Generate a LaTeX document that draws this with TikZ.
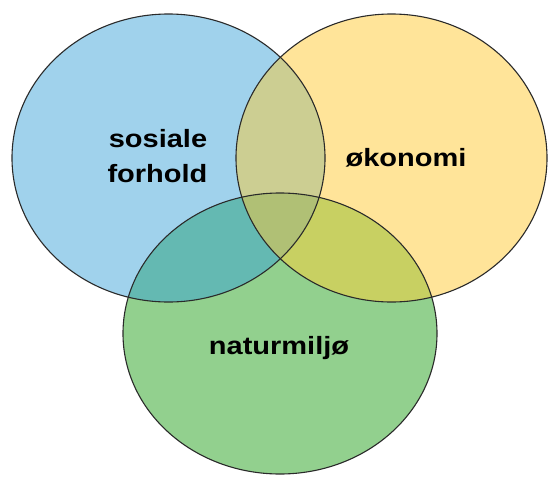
\documentclass[tikz,border=0pt]{standalone}
\usepackage{graphicx}
\usepackage{fontspec}
\setmainfont{Liberation Sans}
\definecolor{cblue}{HTML}{A0D2EC}
\definecolor{cyellow}{HTML}{FFE499}
\definecolor{cgreen}{HTML}{92D08E}
\definecolor{cby}{HTML}{CCCE92}
\definecolor{cbg}{HTML}{64B9B2}
\definecolor{cyg}{HTML}{C8D062}
\definecolor{cbyg}{HTML}{B0C075}
\definecolor{cline}{HTML}{2A2A2A}
\newcommand{\wide}[1]{\scalebox{1.16}[1]{#1}}
\tikzset{
  outline/.style={draw=cline, line width=1.1pt},
  label/.style={font=\fontsize{25}{30}\selectfont\bfseries, anchor=base, inner sep=0pt, text=black}
}
\newcommand{\blueE}{(168.5,158) ellipse [x radius=156.5pt, y radius=144pt]}
\newcommand{\yellowE}{(391.5,158) ellipse [x radius=155.5pt, y radius=144pt]}
\newcommand{\greenE}{(280,333.5) ellipse [x radius=157pt, y radius=140.5pt]}
\begin{document}
\begin{tikzpicture}[x=1pt,y=-1pt]
\useasboundingbox (0,0) rectangle (549,477);
\fill[white] (0,0) rectangle (549,477);
% base fills
\fill[cblue] \blueE;
\fill[cyellow] \yellowE;
\fill[cgreen] \greenE;
% overlaps
\begin{scope}
  \clip \blueE;
  \fill[cby] \yellowE;
  \fill[cbg] \greenE;
  \clip \yellowE;
  \fill[cbyg] \greenE;
\end{scope}
\begin{scope}
  \clip \yellowE;
  \clip \greenE;
  \fill[cyg] (0,0) rectangle (549,477);
  \clip \blueE;
  \fill[cbyg] (0,0) rectangle (549,477);
\end{scope}
% outlines
\draw[outline] \blueE;
\draw[outline] \yellowE;
\draw[outline] \greenE;
% labels
\node[label] (sos) at (158,147) {\wide{sosiale}};
\node[label] (forh) at (157.5,182) {\wide{forhold}};
\node[label] (oko) at (406,166) {\wide{økonomi}};
\node[label] (nat) at (279,354) {\wide{naturmiljø}};
\end{tikzpicture}
\end{document}
